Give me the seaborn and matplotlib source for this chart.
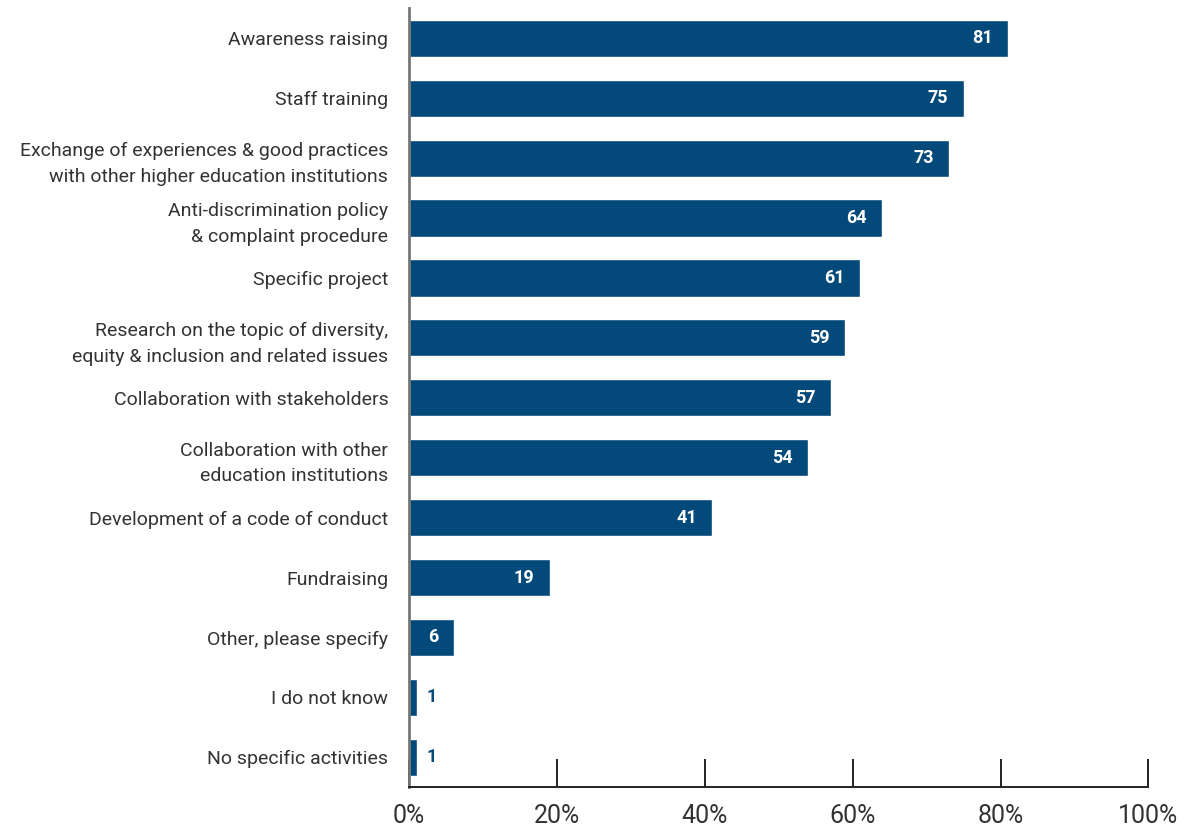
import matplotlib
matplotlib.use("Agg")
import matplotlib.pyplot as plt
import seaborn as sns
import pandas as pd

categories = [
    "Awareness raising",
    "Staff training",
    "Exchange of experiences & good practices\nwith other higher education institutions",
    "Anti-discrimination policy\n& complaint procedure",
    "Specific project",
    "Research on the topic of diversity,\nequity & inclusion and related issues",
    "Collaboration with stakeholders",
    "Collaboration with other\neducation institutions",
    "Development of a code of conduct",
    "Fundraising",
    "Other, please specify",
    "I do not know",
    "No specific activities",
]
values = [81, 75, 73, 64, 61, 59, 57, 54, 41, 19, 6, 1, 1]
tick_values = [0, 20, 40, 60, 80, 100]
tick_labels = ["0%", "20%", "40%", "60%", "80%", "100%"]

BAR = "#03497a"
TEXT = "#333333"

sns.set_theme(style="white")
plt.rcParams["font.family"] = ["Roboto", "DejaVu Sans"]

df = pd.DataFrame({"activity": categories, "share": values})

fig = plt.figure(figsize=(12, 8.27), dpi=100)
ax = fig.add_axes([0.341, 0.048, 0.616, 0.942])

sns.barplot(data=df, y="activity", x="share", orient="h", color=BAR,
            saturation=1, width=0.62, ax=ax)

ax.set_xlim(0, 100)
ax.set_ylim(len(categories) - 0.5, -0.5)
ax.set_xlabel("")
ax.set_ylabel("")
ax.set_xticks(tick_values)
ax.set_xticklabels(tick_labels, fontsize=18, color=TEXT)
ax.tick_params(axis="x", direction="in", length=20, width=1.4, color="#222222",
               pad=12, bottom=True)
ax.tick_params(axis="y", length=0, pad=15, labelsize=14, labelcolor=TEXT)
for lbl in ax.get_yticklabels():
    lbl.set_linespacing(1.55)

for side in ("top", "right"):
    ax.spines[side].set_visible(False)
ax.spines["left"].set_color("#777777")
ax.spines["left"].set_linewidth(2)
ax.spines["bottom"].set_color("#222222")
ax.spines["bottom"].set_linewidth(1.4)

for i, v in enumerate(values):
    if v >= 5:
        ax.annotate(str(v), xy=(v, i), xytext=(-11, 0), textcoords="offset points",
                    ha="right", va="center", color="white", fontsize=13,
                    fontweight="bold")
    else:
        ax.annotate(str(v), xy=(v, i), xytext=(7, 0), textcoords="offset points",
                    ha="left", va="center", color=BAR, fontsize=13,
                    fontweight="bold")

fig.savefig("out.png", dpi=100)
